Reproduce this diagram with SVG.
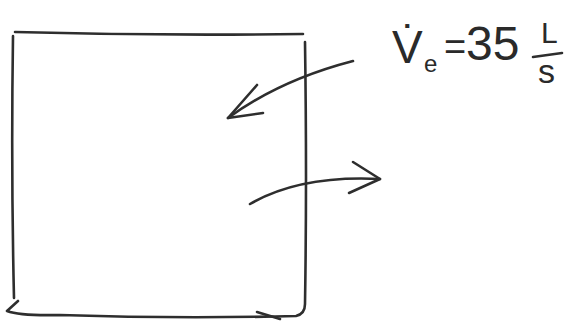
<svg xmlns="http://www.w3.org/2000/svg" width="567" height="324" viewBox="0 0 567 324">
  <style>
    .ink{fill:none;stroke:#2e2e2e;stroke-width:2.6;stroke-linecap:round;stroke-linejoin:round}
    .txt{font-family:"Liberation Sans","DejaVu Sans",sans-serif;fill:#2a2a2a}
  </style>
  <rect width="567" height="324" fill="#ffffff"/>
  <g id="control-volume">
    <path class="ink" d="M15,32 Q160,36 303,34"/>
    <path class="ink" d="M13,36 Q11,170 14,298"/>
    <path class="ink" d="M18,301 L7,311 Q20,316 60,315 Q180,319 296,316 Q305,314 305,304 Q307,180 305,42"/>
    <path class="ink" d="M257,312 L280,319" stroke-width="2"/>
  </g>
  <g id="flow-label">
    <text class="txt" x="392" y="63" font-size="46">V̇</text>
    <text class="txt" x="424" y="72" font-size="24">e</text>
    <text class="txt" x="444" y="60" font-size="38">=</text>
    <text class="txt" x="466" y="60" font-size="48">35</text>
    <text class="txt" x="541" y="43" font-size="30">L</text>
    <path class="ink" d="M533,57 L562,53"/>
    <text class="txt" x="538" y="83" font-size="34">s</text>
  </g>
  <g id="connectors">
    <path class="ink" d="M353,61 Q280,80 228,118"/>
    <path class="ink" d="M257,85 L228,118 L263,113"/>
    <path class="ink" d="M250,204 Q300,175 380,179"/>
    <path class="ink" d="M353,162 L380,179 L349,193"/>
  </g>
</svg>
